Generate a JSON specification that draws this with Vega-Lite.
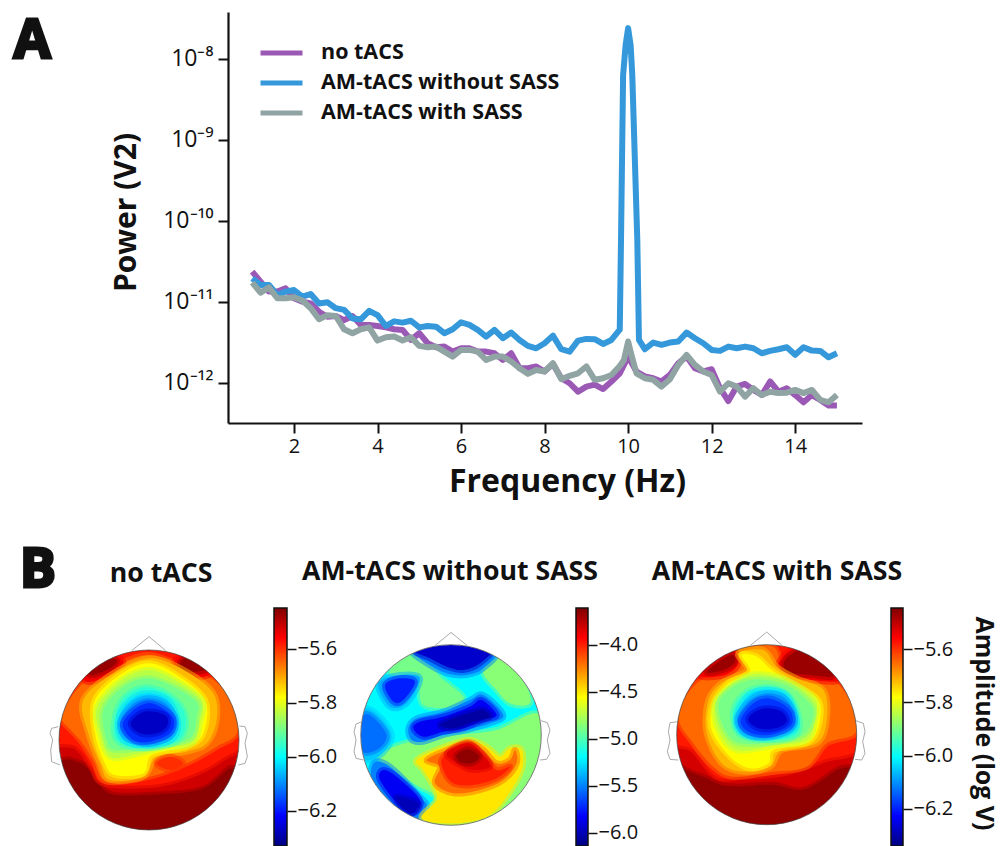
{"$schema":"https://vega.github.io/schema/vega-lite/v6.json","width":1002,"height":846,"padding":0,"autosize":{"type":"none"},"background":"white",
"config":{"view":{"stroke":null},"font":"Open Sans","axis":{"grid":false,"labelFont":"Open Sans","titleFont":"Open Sans","labelColor":"#111","titleColor":"#111","tickColor":"#111","domainColor":"#111"}},
"resolve":{"scale":{"x":"independent","y":"independent","color":"independent","fill":"independent","stroke":"independent"},"axis":{"x":"independent","y":"independent"}},
"layer":[
{"encoding":{"x":{"field":"f","type":"quantitative","scale":{"domain":[0.42,15.6],"range":[228,862],"nice":false,"zero":false},"axis":{"orient":"bottom","offset":-423,"values":[2,4,6,8,10,12,14],"format":"d","tickSize":10,"tickWidth":2,"domainWidth":2.2,"labelFontSize":20,"labelPadding":3,"title":"Frequency (Hz)","titleFontSize":32,"titleFontWeight":"bold","titleX":567,"titleY":43,"titleAnchor":"middle"}},
"y":{"field":"p","type":"quantitative","scale":{"type":"log","domain":[3.16e-13,3.8e-8],"range":[423,12],"nice":false},"axis":{"orient":"left","offset":-228,"values":[1e-12,1e-11,1e-10,1e-9,1e-8],"labelExpr":"'10' + ['⁻¹²','⁻¹¹','⁻¹⁰','⁻⁹','⁻⁸'][round(log(datum.value)/LN10)+12]","tickSize":10,"tickWidth":2,"domainWidth":2.2,"labelFontSize":23,"labelPadding":5,"title":"Power (V2)","titleFontSize":30,"titleFontWeight":"bold","titleX":-87,"titleY":212,"titleAnchor":"middle"}}},
"layer":[
{"data":{"values":[
{"f":1,"a":23.5e-12,"b":19.4e-12,"c":17.2e-12},{"f":1.2,"a":17.7e-12,"b":16.1e-12,"c":12.9e-12},{"f":1.4,"a":13.3e-12,"b":16.1e-12,"c":15e-12},{"f":1.6,"a":13.3e-12,"b":12.1e-12,"c":11e-12},{"f":1.8,"a":14.6e-12,"b":13.3e-12,"c":11e-12},{"f":2,"a":11e-12,"b":13.9e-12,"c":11.3e-12},{"f":2.2,"a":10e-12,"b":11.5e-12,"c":10.3e-12},{"f":2.4,"a":9.5e-12,"b":12.4e-12,"c":8.3e-12},{"f":2.6,"a":7.5e-12,"b":9.5e-12,"c":6.05e-12},{"f":2.8,"a":6.5e-12,"b":9.8e-12,"c":6.8e-12},{"f":3,"a":6.65e-12,"b":8.3e-12,"c":6.65e-12},{"f":3.2,"a":5.9e-12,"b":7.9e-12,"c":4.55e-12},{"f":3.4,"a":6.65e-12,"b":6.2e-12,"c":4.07e-12},{"f":3.6,"a":5.15e-12,"b":6.05e-12,"c":4.55e-12},{"f":3.8,"a":5.15e-12,"b":7.7e-12,"c":4.8e-12},{"f":4,"a":5e-12,"b":6.8e-12,"c":3.3e-12},{"f":4.2,"a":4.8e-12,"b":5e-12,"c":3.63e-12},{"f":4.4,"a":4.55e-12,"b":5.7e-12,"c":3.7e-12},{"f":4.6,"a":4.47e-12,"b":5.5e-12,"c":3.3e-12},{"f":4.8,"a":3.36e-12,"b":5.8e-12,"c":3.63e-12},{"f":5,"a":4.07e-12,"b":4.8e-12,"c":2.84e-12},{"f":5.2,"a":3.06e-12,"b":5e-12,"c":2.73e-12},{"f":5.4,"a":2.73e-12,"b":4.9e-12,"c":2.78e-12},{"f":5.6,"a":2.78e-12,"b":4.07e-12,"c":2.41e-12},{"f":5.8,"a":2.41e-12,"b":4.55e-12,"c":2.09e-12},{"f":6,"a":2.65e-12,"b":5.56e-12,"c":2.53e-12},{"f":6.2,"a":2.65e-12,"b":5.15e-12,"c":2.53e-12},{"f":6.4,"a":2.41e-12,"b":4.47e-12,"c":2.41e-12},{"f":6.6,"a":2.41e-12,"b":3.7e-12,"c":1.9e-12},{"f":6.8,"a":2.3e-12,"b":4.47e-12,"c":2.09e-12},{"f":7,"a":1.9e-12,"b":3.53e-12,"c":2.09e-12},{"f":7.2,"a":2.3e-12,"b":4.14e-12,"c":1.82e-12},{"f":7.4,"a":1.5e-12,"b":3.36e-12,"c":1.5e-12},{"f":7.6,"a":1.5e-12,"b":2.84e-12,"c":1.28e-12},{"f":7.8,"a":1.58e-12,"b":2.65e-12,"c":1.43e-12},{"f":8,"a":1.37e-12,"b":3.06e-12,"c":1.37e-12},{"f":8.2,"a":1.7e-12,"b":3.8e-12,"c":1.73e-12},{"f":8.4,"a":1.13e-12,"b":2.58e-12,"c":1.1e-12},{"f":8.6,"a":0.98e-12,"b":2.41e-12,"c":1.21e-12},{"f":8.8,"a":0.77e-12,"b":3.3e-12,"c":1.3e-12},{"f":9,"a":0.89e-12,"b":3.46e-12,"c":1.58e-12},{"f":9.2,"a":0.94e-12,"b":3.43e-12,"c":1.08e-12},{"f":9.4,"a":0.83e-12,"b":3e-12,"c":1.13e-12},{"f":9.6,"a":1.03e-12,"b":3.36e-12,"c":1.24e-12},{"f":9.8,"a":1.3e-12,"b":4.5e-12,"c":1.6e-12},{"f":9.83,"b":58e-12},{"f":9.88,"b":6300e-12},{"f":9.9,"c":1.9e-12},{"f":9.94,"b":14800e-12},{"f":10,"a":2.09e-12,"b":24000e-12,"c":3.21e-12},{"f":10.06,"b":14800e-12},{"f":10.1,"b":6300e-12,"c":2e-12},{"f":10.2,"a":1.37e-12,"c":1.3e-12},{"f":10.22,"b":58e-12},{"f":10.26,"b":3.36e-12},{"f":10.4,"a":1.19e-12,"b":2.58e-12,"c":1.13e-12},{"f":10.6,"a":1.13e-12,"b":3.12e-12,"c":1.08e-12},{"f":10.8,"a":1.03e-12,"b":2.92e-12,"c":0.89e-12},{"f":11,"a":1.24e-12,"b":3.12e-12,"c":1.1e-12},{"f":11.2,"a":1.73e-12,"b":3.21e-12,"c":1.65e-12},{"f":11.4,"a":2.09e-12,"b":4.14e-12,"c":2.2e-12},{"f":11.6,"a":1.5e-12,"b":3.53e-12,"c":1.65e-12},{"f":11.8,"a":1.37e-12,"b":3.06e-12,"c":1.37e-12},{"f":12,"a":1.46e-12,"b":2.53e-12,"c":1.24e-12},{"f":12.2,"a":0.85e-12,"b":2.46e-12,"c":0.77e-12},{"f":12.4,"a":0.59e-12,"b":2.78e-12,"c":0.98e-12},{"f":12.6,"a":0.89e-12,"b":2.65e-12,"c":0.89e-12},{"f":12.8,"a":0.96e-12,"b":2.78e-12,"c":0.67e-12},{"f":13,"a":0.81e-12,"b":2.65e-12,"c":0.85e-12},{"f":13.2,"a":0.7e-12,"b":2.3e-12,"c":0.7e-12},{"f":13.4,"a":1.03e-12,"b":2.46e-12,"c":0.77e-12},{"f":13.6,"a":0.77e-12,"b":2.58e-12,"c":0.74e-12},{"f":13.8,"a":0.85e-12,"b":2.73e-12,"c":0.75e-12},{"f":14,"a":0.7e-12,"b":2.2e-12,"c":0.81e-12},{"f":14.2,"a":0.57e-12,"b":2.73e-12,"c":0.74e-12},{"f":14.4,"a":0.7e-12,"b":2.48e-12,"c":0.81e-12},{"f":14.6,"a":0.61e-12,"b":2.46e-12,"c":0.61e-12},{"f":14.8,"a":0.52e-12,"b":2.05e-12,"c":0.57e-12},{"f":15,"a":0.52e-12,"b":2.3e-12,"c":0.7e-12}]},
"transform":[{"fold":["a","b","c"],"as":["s","p"]},{"filter":"isValid(datum.p)"}],
"mark":{"type":"line","strokeWidth":6,"strokeJoin":"round","strokeCap":"butt"},
"encoding":{"color":{"field":"s","type":"nominal","scale":{"domain":["a","b","c"],"range":["#9b59b6","#3498db","#90a4a4"]},"legend":{"orient":"none","legendX":258,"legendY":38,"title":null,"symbolType":"stroke","symbolSize":1764,"symbolStrokeWidth":5,"clipHeight":30,"rowPadding":0,"labelFontSize":21.5,"labelFontWeight":"bold","labelColor":"#111","labelOffset":16,"labelLimit":400,"labelExpr":"{a:'no tACS',b:'AM-tACS without SASS',c:'AM-tACS with SASS'}[datum.label]"}}}},
{"data":{"values":[{"f":-4.27,"p":1.6e-8,"t":"A"}]},"mark":{"type":"text","fontSize":54,"fontWeight":"bold","stroke":"#111","strokeWidth":3,"fill":"#111","align":"center","baseline":"middle"},"encoding":{"text":{"field":"t"}}}
]},
{"encoding":{"x":{"field":"x","type":"quantitative","scale":{"domain":[177,717],"range":[59,239],"nice":false,"zero":false},"axis":null},"y":{"field":"y","type":"quantitative","scale":{"domain":[150,690],"range":[650,830],"nice":false,"zero":false},"axis":null}},
"layer":[
{"data":{"values":[
{"i":0,"l":-5.46,"x":[447,659,747,659,447,235,147,235],"y":[120,208,420,632,720,632,420,208]},
{"i":1,"l":-5.52,"x":[150,215,260,300,340,450,600,680,740,700,200],"y":[440,470,490,540,575,575,560,500,460,130,130]},
{"i":2,"l":-5.58,"x":[150,230,275,310,450,560,660,740,700,200],"y":[400,440,500,550,555,530,480,400,140,140]},
{"i":3,"l":-5.65,"x":[178,240,280,320,450,560,650,710,705,640,560,450,350,250,195],"y":[350,420,480,545,530,490,440,400,310,240,205,165,195,250,320]},
{"i":4,"l":-5.55,"x":[250,320,370,330,260],"y":[200,165,185,225,245]},
{"i":5,"l":-5.47,"x":[270,330,350,320,270],"y":[190,175,185,210,225]},
{"i":6,"l":-5.55,"x":[520,570,640,590,535],"y":[190,155,210,235,225]},
{"i":7,"l":-5.47,"x":[540,570,620,590,550],"y":[190,170,205,215,210]},
{"i":8,"l":-5.72,"x":[250,265,300,330,430,470,560,620,650,640,560,450,340],"y":[300,400,490,540,530,470,455,430,360,280,215,175,220]},
{"i":9,"l":-5.6,"x":[470,510,550,510],"y":[490,470,490,510]},
{"i":10,"l":-5.78,"x":[285,285,315,345,430,455,560,610,615,530,445,360],"y":[300,400,490,525,520,465,440,400,300,225,190,225]},
{"i":11,"l":-5.84,"x":[292,300,330,400,480,575,600,605,525,445,365],"y":[320,400,470,465,445,430,370,300,240,210,240]},
{"i":12,"l":-5.9,"x":[310,320,350,480,570,590,590,510,440,370],"y":[330,420,450,435,415,350,305,255,235,260]},
{"i":13,"l":-5.96,"x":[345,350,420,520,555,550,500,435,375],"y":[350,420,445,430,390,330,280,262,290]},
{"i":14,"l":-6.03,"x":[355,370,440,515,535,505,440,385],"y":[360,420,437,420,370,300,280,305]},
{"i":15,"l":-6.1,"x":[360,380,445,510,528,495,440,390],"y":[370,415,432,410,360,310,295,320]},
{"i":16,"l":-6.18,"x":[368,400,450,510,520,480,440,395],"y":[375,420,425,400,355,320,310,335]},
{"i":17,"l":-6.27,"x":[392,420,470,500,500,465,425],"y":[370,400,400,380,350,335,338]}]},
"transform":[{"flatten":["x","y"]}],"mark":{"type":"line","filled":true,"order":false,"interpolate":"cardinal-closed","strokeWidth":6,"strokeOpacity":0.5},
"encoding":{"detail":{"field":"i"},"fill":{"field":"l","type":"quantitative","legend":null,"scale":{"interpolate":"rgb","domain":[-6.33,-6.22,-6.11,-6,-5.89,-5.78,-5.67,-5.56,-5.45],"range":["#00007f","#0000ff","#007fff","#00ffff","#7fff7f","#ffff00","#ff7f00","#ff0000","#7f0000"]}},"stroke":{"field":"l","type":"quantitative","legend":null,"scale":{"interpolate":"rgb","domain":[-6.33,-6.22,-6.11,-6,-5.89,-5.78,-5.67,-5.56,-5.45],"range":["#00007f","#0000ff","#007fff","#00ffff","#7fff7f","#ffff00","#ff7f00","#ff0000","#7f0000"]}}}},
{"data":{"values":[{"x":447,"y":420}]},"mark":{"type":"point","filled":false,"stroke":"white","strokeWidth":45,"size":50625,"opacity":1}},
{"data":{"values":[{"x":447,"y":420}]},"mark":{"type":"point","filled":false,"stroke":"#444","strokeWidth":0.7,"size":32400,"opacity":1}},
{"data":{"values":[{"i":"n","x":[395,447,497],"y":[152,110,152]},{"i":"l","x":[175,155,150,158,152,155,180],"y":[380,385,400,420,450,485,495]},{"i":"r","x":[718,735,742,735,742,735,715],"y":[378,380,400,430,470,490,495]}]},
"transform":[{"flatten":["x","y"]}],"mark":{"type":"line","order":false,"stroke":"#aaa","strokeWidth":1},"encoding":{"detail":{"field":"i"}}},
{"data":{"values":[{"x":483,"y":-78,"t":"no tACS"}]},"mark":{"type":"text","fontSize":26.7,"fontWeight":"bold","fill":"#111"},"encoding":{"text":{"field":"t"}}},
{"data":{"values":[{"x":114,"y":-88,"t":"B"}]},"mark":{"type":"text","fontSize":54,"fontWeight":"bold","stroke":"#111","strokeWidth":3,"fill":"#111"},"encoding":{"text":{"field":"t"}}}
]},
{"encoding":{"x":{"field":"x","type":"quantitative","scale":{"domain":[62,604],"range":[360.7,541.3],"nice":false,"zero":false},"axis":null},"y":{"field":"y","type":"quantitative","scale":{"domain":[134,676],"range":[644.7,825.3],"nice":false,"zero":false},"axis":null}},
"layer":[
{"data":{"values":[
{"i":0,"l":-5.2,"x":[333,545,633,545,333,121,33,121],"y":[105,193,405,617,705,617,405,193]},
{"i":1,"l":-4.9,"x":[190,250,300,370,340,250,230,150],"y":[170,165,230,290,320,315,240,220]},
{"i":2,"l":-4.85,"x":[430,480,550,570,510,470],"y":[215,175,240,310,310,270]},
{"i":3,"l":-4.85,"x":[140,230,340,470,590,640,600,480,240,290,220,120],"y":[450,420,405,390,340,420,560,700,700,600,550,480]},
{"i":4,"l":-5.5,"x":[210,270,460,430,380,320,260],"y":[145,110,150,205,225,220,190]},
{"i":5,"l":-5.95,"x":[220,270,450,420,370,320,270],"y":[150,120,140,190,210,200,175]},
{"i":6,"l":-5.4,"x":[115,180,240,200,150],"y":[250,225,235,310,320]},
{"i":7,"l":-5.75,"x":[135,180,225,190,160],"y":[255,235,245,300,305]},
{"i":8,"l":-5.33,"x":[40,95,155,115,50],"y":[340,330,405,470,470]},
{"i":9,"l":-5.55,"x":[60,90,140,110,60],"y":[360,345,405,450,450]},
{"i":10,"l":-5.5,"x":[205,230,310,390,430,490,450,380,310,250,215],"y":[385,355,335,300,285,345,370,390,405,425,420]},
{"i":11,"l":-5.85,"x":[220,240,310,390,425,470,430,370,310,250],"y":[385,365,350,320,300,345,360,385,395,410]},
{"i":12,"l":-6.05,"x":[300,340,400,430,450,400,340],"y":[375,355,335,330,350,365,385]},
{"i":13,"l":-5.5,"x":[100,150,240,260,230,170,100],"y":[490,500,590,620,660,640,560]},
{"i":14,"l":-5.85,"x":[130,170,240,220,180,120],"y":[510,530,600,640,620,540]},
{"i":15,"l":-6,"x":[170,235,215,185],"y":[590,610,640,620]},
{"i":16,"l":-4.5,"x":[230,300,385,440,480,510,545,545,500,440,335,245,290,280,250],"y":[480,445,420,440,470,445,450,510,590,650,670,655,600,560,510]},
{"i":17,"l":-4.2,"x":[320,385,430,470,510,525,530,490,420,340,285,300,260],"y":[450,425,450,490,480,450,490,540,570,580,550,500,480]},
{"i":18,"l":-4,"x":[310,385,430,470,510,470,400,340,310],"y":[470,435,470,510,500,535,555,550,510]},
{"i":19,"l":-3.85,"x":[320,385,430,450,400,360],"y":[460,430,465,500,510,495]},
{"i":20,"l":-3.65,"x":[350,385,418,395,360],"y":[465,448,470,490,485]}]},
"transform":[{"flatten":["x","y"]}],"mark":{"type":"line","filled":true,"order":false,"interpolate":"cardinal-closed","strokeWidth":6,"strokeOpacity":0.5},
"encoding":{"detail":{"field":"i"},"fill":{"field":"l","type":"quantitative","legend":null,"scale":{"interpolate":"rgb","domain":[-6.14,-5.824,-5.508,-5.191,-4.875,-4.559,-4.243,-3.926,-3.61],"range":["#00007f","#0000ff","#007fff","#00ffff","#7fff7f","#ffff00","#ff7f00","#ff0000","#7f0000"]}},"stroke":{"field":"l","type":"quantitative","legend":null,"scale":{"interpolate":"rgb","domain":[-6.14,-5.824,-5.508,-5.191,-4.875,-4.559,-4.243,-3.926,-3.61],"range":["#00007f","#0000ff","#007fff","#00ffff","#7fff7f","#ffff00","#ff7f00","#ff0000","#7f0000"]}}}},
{"data":{"values":[{"x":333,"y":405}]},"mark":{"type":"point","filled":false,"stroke":"white","strokeWidth":45,"size":50625,"opacity":1}},
{"data":{"values":[{"x":333,"y":405}]},"mark":{"type":"point","filled":false,"stroke":"#444","strokeWidth":0.7,"size":32600,"opacity":1}},
{"data":{"values":[{"i":"n","x":[285,333,382],"y":[137,97,137]},{"i":"l","x":[66,48,42,48,42,48,70],"y":[365,372,395,420,455,475,480]},{"i":"r","x":[603,622,630,622,630,620,600],"y":[362,368,390,420,460,478,480]}]},
"transform":[{"flatten":["x","y"]}],"mark":{"type":"line","order":false,"stroke":"#aaa","strokeWidth":1},"encoding":{"detail":{"field":"i"}}},
{"data":{"values":[{"x":330,"y":-84,"t":"AM-tACS without SASS"}]},"mark":{"type":"text","fontSize":26.7,"fontWeight":"bold","fill":"#111"},"encoding":{"text":{"field":"t"}}}
]},
{"encoding":{"x":{"field":"x","type":"quantitative","scale":{"domain":[80,620],"range":[676.7,856.7],"nice":false,"zero":false},"axis":null},"y":{"field":"y","type":"quantitative","scale":{"domain":[134,674],"range":[644.7,824.7],"nice":false,"zero":false},"axis":null}},
"layer":[
{"data":{"values":[
{"i":0,"l":-5.46,"x":[350,562,650,562,350,138,50,138],"y":[104,192,404,616,704,616,404,192]},
{"i":1,"l":-5.52,"x":[60,180,250,370,460,560,650,610,90],"y":[440,530,550,545,560,500,450,130,130]},
{"i":2,"l":-5.58,"x":[60,130,200,280,400,520,640,600,100],"y":[400,450,530,530,520,480,420,140,140]},
{"i":3,"l":-5.65,"x":[85,130,190,250,370,470,530,615,610,550,470,400,370,280,235,130],"y":[350,430,500,530,515,500,430,400,320,240,220,200,140,135,190,260]},
{"i":4,"l":-5.55,"x":[385,420,470,570,480,420],"y":[195,150,130,235,240,230]},
{"i":5,"l":-5.47,"x":[400,420,470,550,480,420],"y":[195,165,150,225,225,220]},
{"i":6,"l":-5.55,"x":[150,240,265,225],"y":[225,150,190,225]},
{"i":7,"l":-5.47,"x":[170,240,255,220],"y":[215,165,185,210]},
{"i":8,"l":-5.72,"x":[175,170,215,280,360,395,500,530,520,440,380,340,265,290,220],"y":[300,400,490,515,500,450,430,360,270,235,200,150,160,210,245]},
{"i":9,"l":-5.78,"x":[190,185,240,300,355,370,470,505,505,425,365,320,275,300,235],"y":[310,390,470,505,490,450,430,380,300,250,210,170,165,215,250]},
{"i":10,"l":-5.84,"x":[195,205,260,380,470,495,495,420,355,300,240],"y":[310,390,450,435,420,360,300,245,225,225,260]},
{"i":11,"l":-5.9,"x":[205,225,270,380,460,490,480,420,350,280,225],"y":[320,390,430,425,405,350,310,260,240,245,280]},
{"i":12,"l":-5.96,"x":[250,265,340,430,450,420,360,290],"y":[330,400,420,410,365,290,262,275]},
{"i":13,"l":-6.03,"x":[258,275,345,425,440,410,350,295],"y":[350,400,415,395,355,285,268,285]},
{"i":14,"l":-6.1,"x":[262,285,350,420,435,405,350,300],"y":[355,400,412,390,350,295,280,300]},
{"i":15,"l":-6.18,"x":[272,295,355,420,425,395,350,310],"y":[360,395,405,380,340,310,295,310]},
{"i":16,"l":-6.27,"x":[295,325,375,410,395,350,315],"y":[360,385,385,365,335,325,335]}]},
"transform":[{"flatten":["x","y"]}],"mark":{"type":"line","filled":true,"order":false,"interpolate":"cardinal-closed","strokeWidth":6,"strokeOpacity":0.5},
"encoding":{"detail":{"field":"i"},"fill":{"field":"l","type":"quantitative","legend":null,"scale":{"interpolate":"rgb","domain":[-6.339,-6.227,-6.116,-6.004,-5.893,-5.781,-5.669,-5.558,-5.446],"range":["#00007f","#0000ff","#007fff","#00ffff","#7fff7f","#ffff00","#ff7f00","#ff0000","#7f0000"]}},"stroke":{"field":"l","type":"quantitative","legend":null,"scale":{"interpolate":"rgb","domain":[-6.339,-6.227,-6.116,-6.004,-5.893,-5.781,-5.669,-5.558,-5.446],"range":["#00007f","#0000ff","#007fff","#00ffff","#7fff7f","#ffff00","#ff7f00","#ff0000","#7f0000"]}}}},
{"data":{"values":[{"x":350,"y":404}]},"mark":{"type":"point","filled":false,"stroke":"white","strokeWidth":45,"size":50625,"opacity":1}},
{"data":{"values":[{"x":350,"y":404}]},"mark":{"type":"point","filled":false,"stroke":"#444","strokeWidth":0.7,"size":32400,"opacity":1}},
{"data":{"values":[{"i":"n","x":[300,350,397],"y":[137,96,137]},{"i":"l","x":[82,60,55,60,52,60,85],"y":[365,368,395,420,455,478,480]},{"i":"r","x":[618,640,645,638,645,635,615],"y":[362,370,395,425,460,480,478]}]},
"transform":[{"flatten":["x","y"]}],"mark":{"type":"line","order":false,"stroke":"#aaa","strokeWidth":1},"encoding":{"detail":{"field":"i"}}},
{"data":{"values":[{"x":381,"y":-84,"t":"AM-tACS with SASS"}]},"mark":{"type":"text","fontSize":26.7,"fontWeight":"bold","fill":"#111"},"encoding":{"text":{"field":"t"}}}
]},
{"data":{"values":[{"a":0,"b":1,"lo":-6.33,"hi":-5.45}]},"mark":{"type":"rect","stroke":"#111","strokeWidth":1.5,"fill":{"gradient":"linear","x1":0,"y1":1,"x2":0,"y2":0,"stops":[{"offset":0,"color":"#00007f"},{"offset":0.125,"color":"#0000ff"},{"offset":0.25,"color":"#007fff"},{"offset":0.375,"color":"#00ffff"},{"offset":0.5,"color":"#7fff7f"},{"offset":0.625,"color":"#ffff00"},{"offset":0.75,"color":"#ff7f00"},{"offset":0.875,"color":"#ff0000"},{"offset":1,"color":"#7f0000"}]}},
"encoding":{"x":{"field":"a","type":"quantitative","scale":{"domain":[0,1],"range":[274,287],"nice":false},"axis":null},"x2":{"field":"b"},"y":{"field":"lo","type":"quantitative","scale":{"domain":[-6.33,-5.45],"range":[846,608],"nice":false,"zero":false},"axis":{"orient":"right","offset":-715,"zindex":1,"values":[-6.2,-6,-5.8,-5.6],"format":".1f","tickSize":9,"tickWidth":1.5,"domain":false,"labelFontSize":20,"labelPadding":1,"title":null}},"y2":{"field":"hi"}}},
{"data":{"values":[{"a":0,"b":1,"lo":-6.14,"hi":-3.61}]},"mark":{"type":"rect","stroke":"#111","strokeWidth":1.5,"fill":{"gradient":"linear","x1":0,"y1":1,"x2":0,"y2":0,"stops":[{"offset":0,"color":"#00007f"},{"offset":0.125,"color":"#0000ff"},{"offset":0.25,"color":"#007fff"},{"offset":0.375,"color":"#00ffff"},{"offset":0.5,"color":"#7fff7f"},{"offset":0.625,"color":"#ffff00"},{"offset":0.75,"color":"#ff7f00"},{"offset":0.875,"color":"#ff0000"},{"offset":1,"color":"#7f0000"}]}},
"encoding":{"x":{"field":"a","type":"quantitative","scale":{"domain":[0,1],"range":[576,588],"nice":false},"axis":null},"x2":{"field":"b"},"y":{"field":"lo","type":"quantitative","scale":{"domain":[-6.14,-3.61],"range":[846,608],"nice":false,"zero":false},"axis":{"orient":"right","offset":-414,"zindex":1,"values":[-6,-5.5,-5,-4.5,-4],"format":".1f","tickSize":9,"tickWidth":1.5,"domain":false,"labelFontSize":20,"labelPadding":1,"title":null}},"y2":{"field":"hi"}}},
{"data":{"values":[{"a":0,"b":1,"lo":-6.339,"hi":-5.446}]},"mark":{"type":"rect","stroke":"#111","strokeWidth":1.5,"fill":{"gradient":"linear","x1":0,"y1":1,"x2":0,"y2":0,"stops":[{"offset":0,"color":"#00007f"},{"offset":0.125,"color":"#0000ff"},{"offset":0.25,"color":"#007fff"},{"offset":0.375,"color":"#00ffff"},{"offset":0.5,"color":"#7fff7f"},{"offset":0.625,"color":"#ffff00"},{"offset":0.75,"color":"#ff7f00"},{"offset":0.875,"color":"#ff0000"},{"offset":1,"color":"#7f0000"}]}},
"encoding":{"x":{"field":"a","type":"quantitative","scale":{"domain":[0,1],"range":[891,903],"nice":false},"axis":null},"x2":{"field":"b"},"y":{"field":"lo","type":"quantitative","scale":{"domain":[-6.339,-5.446],"range":[846,608],"nice":false,"zero":false},"axis":{"orient":"right","offset":-99,"zindex":1,"values":[-6.2,-6,-5.8,-5.6],"format":".1f","tickSize":9,"tickWidth":1.5,"domain":false,"labelFontSize":20,"labelPadding":1,"title":"Amplitude (log V)","titleFontSize":25,"titleFontWeight":"bold","titleAngle":90,"titleX":67,"titleY":723,"titleAnchor":"middle"}},"y2":{"field":"hi"}}}
]}
